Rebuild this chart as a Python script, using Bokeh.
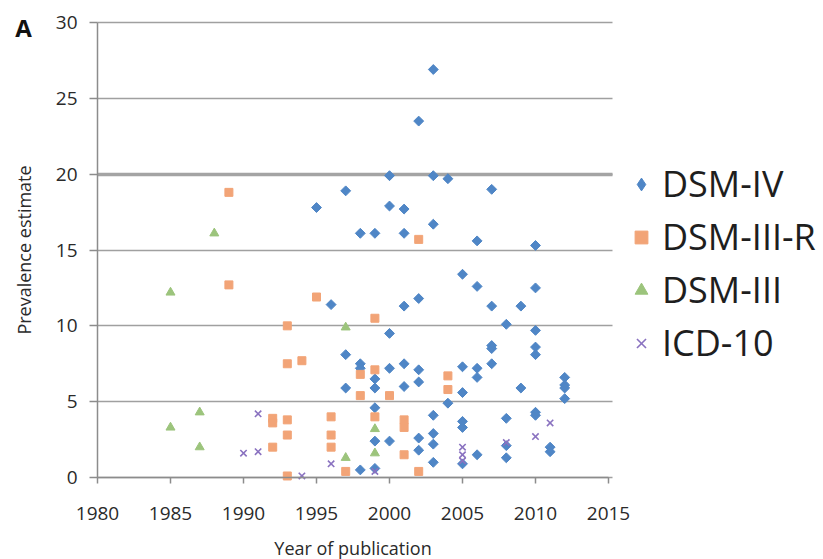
from bokeh.plotting import figure
from bokeh.models import Range1d, Legend, LegendItem, Label, Grid, FixedTicker
from bokeh.embed import file_html
from bokeh.resources import INLINE
import numpy as np

# ---- data ----
dsm4_year = [1995, 1996, 1997, 1997, 1997,
             1998, 1998, 1998, 1998,
             1999, 1999, 1999, 1999, 1999, 1999,
             2000, 2000, 2000, 2000, 2000,
             2001, 2001, 2001, 2001, 2001,
             2002, 2002, 2002, 2002, 2002, 2002,
             2003, 2003, 2003, 2003, 2003, 2003, 2003,
             2004, 2004,
             2005, 2005, 2005, 2005, 2005, 2005,
             2006, 2006, 2006, 2006, 2006,
             2007, 2007, 2007, 2007, 2007,
             2008, 2008, 2008, 2008,
             2009, 2009,
             2010, 2010, 2010, 2010, 2010, 2010, 2010,
             2011, 2011,
             2012, 2012, 2012, 2012]
dsm4_val = [17.8, 11.4, 18.9, 8.1, 5.9,
            16.1, 7.5, 7.2, 0.5,
            16.1, 6.5, 5.9, 4.6, 2.4, 0.6,
            19.9, 17.9, 9.5, 7.2, 2.4,
            17.7, 16.1, 11.3, 7.5, 6.0,
            23.5, 11.8, 7.1, 6.3, 2.6, 1.8,
            26.9, 19.9, 16.7, 4.1, 2.9, 2.2, 1.0,
            19.7, 4.9,
            13.4, 7.3, 5.6, 3.7, 3.3, 0.9,
            15.6, 12.6, 7.2, 6.6, 1.5,
            19.0, 11.3, 8.7, 8.5, 7.5,
            10.1, 3.9, 2.1, 1.3,
            11.3, 5.9,
            15.3, 12.5, 9.7, 8.6, 8.1, 4.3, 4.1,
            2.0, 1.7,
            6.6, 6.1, 5.9, 5.2]

dsm3r_year = [1989, 1989, 1992, 1992, 1992,
              1993, 1993, 1993, 1993, 1993,
              1994, 1995, 1996, 1996, 1996, 1997,
              1998, 1998, 1999, 1999, 1999,
              2000, 2001, 2001, 2001, 2002, 2002, 2004, 2004]
dsm3r_val = [18.8, 12.7, 3.9, 3.6, 2.0,
             10.0, 7.5, 3.8, 2.8, 0.1,
             7.7, 11.9, 4.0, 2.8, 2.0, 0.4,
             6.8, 5.4, 10.5, 7.1, 4.0,
             5.4, 3.8, 3.3, 1.5, 15.7, 0.4, 6.7, 5.8]

dsm3_year = [1985, 1985, 1987, 1987, 1988, 1997, 1997, 1999, 1999]
dsm3_val = [12.2, 3.3, 4.3, 2.0, 16.1, 9.9, 1.3, 3.2, 1.6]

icd10_year = [1990, 1991, 1991, 1994, 1996, 1999, 2005, 2005, 2005, 2008, 2010, 2011]
icd10_val = [1.6, 4.2, 1.7, 0.1, 0.9, 0.4, 2.0, 1.5, 1.1, 2.3, 2.7, 3.6]

series_labels = ["DSM-IV", "DSM-III-R", "DSM-III", "ICD-10"]
x_ticks = [1980, 1985, 1990, 1995, 2000, 2005, 2010, 2015]
y_ticks = [0, 5, 10, 15, 20, 25, 30]

FONT = "Open Sans"
C_BLUE, C_ORANGE, C_GREEN, C_PURPLE = "#4F86C6", "#F2A477", "#9CC47C", "#8A72C0"

# plot region inside the 823x559 canvas: 1980..2015 -> px 97..608, 0..30 -> px 477..22
W, H = 823, 559
L, R, T, B = 97, 608, 22, 477
x0, x1 = x_ticks[0], x_ticks[-1]
y0, y1 = y_ticks[0], y_ticks[-1]
sx = (R - L) / (x1 - x0)
sy = (B - T) / (y1 - y0)
xr = Range1d(x0 - L / sx, x1 + (W - R) / sx)
yr = Range1d(y0 - (H - B) / sy, y1 + T / sy)

p = figure(width=W, height=H, x_range=xr, y_range=yr,
           output_backend="svg", toolbar_location=None,
           min_border_left=0, min_border_right=0,
           min_border_top=0, min_border_bottom=0)
p.outline_line_color = None
p.background_fill_color = "white"
p.border_fill_color = "white"

# grid
p.xgrid.grid_line_color = None
p.ygrid.grid_line_color = "#a0a0a0"
p.ygrid.grid_line_width = 1.5
p.ygrid.ticker = FixedTicker(ticks=y_ticks)
p.ygrid.bounds = (y0, y1)
p.ygrid.cross_bounds = (x0, x1 + 0.3)
# thicker line at 20 as in the reference
p.add_layout(Grid(dimension=1, ticker=FixedTicker(ticks=[20]),
                  grid_line_color="#a4a4a4", grid_line_width=3.5,
                  cross_bounds=(x0, x1 + 0.3)))

# axes placed at fixed data locations
p.xaxis.fixed_location = y0
p.yaxis.fixed_location = x0
p.xaxis.bounds = (x0, x1)
p.yaxis.bounds = (y0, y1)
p.xaxis.ticker = FixedTicker(ticks=x_ticks)
p.yaxis.ticker = FixedTicker(ticks=y_ticks)
for ax in (p.xaxis, p.yaxis):
    ax.axis_line_color = "#8c8c8c"
    ax.axis_line_width = 1.5
    ax.major_tick_line_color = "#8c8c8c"
    ax.major_tick_line_width = 1.5
    ax.major_tick_in = 0
    ax.minor_tick_line_color = None
    ax.major_label_text_font = FONT
    ax.major_label_text_font_size = "19px"
    ax.major_label_text_color = "#2a2a2a"
    ax.axis_label_text_font = FONT
    ax.axis_label_text_font_size = "18px"
    ax.axis_label_text_font_style = "normal"
    ax.axis_label_text_color = "#2a2a2a"
p.xaxis.major_tick_out = 6
p.yaxis.major_tick_out = 8
p.xaxis.major_label_standoff = 23
p.yaxis.major_label_standoff = 12
p.xaxis.axis_label = "Year of publication"
p.yaxis.axis_label = "Prevalence estimate"
p.xaxis.axis_label_standoff = 13
p.yaxis.axis_label_standoff = 17

# series (a narrow diamond under each rotated square gives the legend its diamond key)
r1_key = p.scatter(dsm4_year, dsm4_val, marker="diamond", size=7,
                   fill_color=C_BLUE, line_color=C_BLUE)
r1 = p.scatter(dsm4_year, dsm4_val, marker="square", angle=np.pi / 4, size=7,
               fill_color=C_BLUE, line_color=C_BLUE)
r2 = p.scatter(dsm3r_year, dsm3r_val, marker="square", size=8,
               fill_color=C_ORANGE, line_color=C_ORANGE)
r3 = p.scatter(dsm3_year, dsm3_val, marker="triangle", size=9,
               fill_color=C_GREEN, line_color=C_GREEN)
r4 = p.scatter(icd10_year, icd10_val, marker="x", size=9,
               line_color=C_PURPLE, line_width=1.6)

legend = Legend(items=[LegendItem(label=series_labels[0], renderers=[r1_key]),
                       LegendItem(label=series_labels[1], renderers=[r2]),
                       LegendItem(label=series_labels[2], renderers=[r3]),
                       LegendItem(label=series_labels[3], renderers=[r4])],
                location=(625, 192), orientation="vertical",
                glyph_width=32, glyph_height=32, label_height=36,
                spacing=4, padding=0, margin=0, label_standoff=5,
                border_line_color=None, background_fill_alpha=0,
                label_text_font=FONT, label_text_font_size="36px",
                label_text_color="#1e1e1e")
p.add_layout(legend, "center")

p.add_layout(Label(x=x0 - (L - 23) / sx, y=y1 - (27 - T) / sy, text="A",
                   text_font=FONT,
                   text_font_style="bold", text_font_size="24px",
                   text_align="center", text_baseline="middle",
                   text_color="#111111"))

open("out.html", "w").write(file_html(p, INLINE))
